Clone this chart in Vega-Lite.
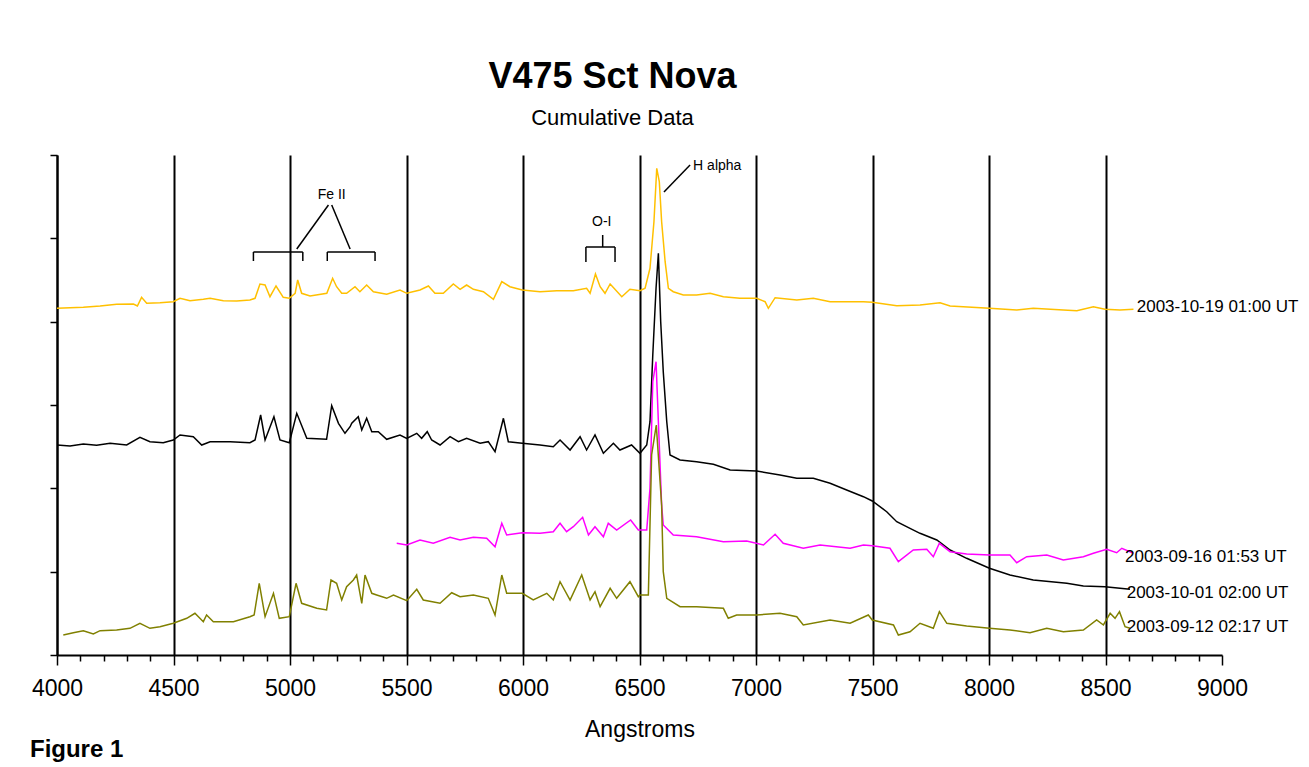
{
  "$schema": "https://vega.github.io/schema/vega-lite/v6.json",
  "width": 1165,
  "height": 500,
  "autosize": {"type": "none"},
  "padding": {"left": 57, "top": 155, "right": 87, "bottom": 112},
  "background": "white",
  "title": {
    "text": "V475 Sct Nova",
    "subtitle": "Cumulative Data",
    "font": "Liberation Sans",
    "fontSize": 36,
    "fontWeight": "bold",
    "color": "black",
    "subtitleFont": "Liberation Sans",
    "subtitleFontSize": 22,
    "subtitleColor": "black",
    "subtitlePadding": 12,
    "anchor": "middle",
    "dx": -27,
    "offset": 24
  },
  "datasets": {
    "spectra": [
      {"series": "2003-10-19", "lambda": 4000, "flux": 346.7}, {"series": "2003-10-19", "lambda": 4056, "flux": 347.3}, {"series": "2003-10-19", "lambda": 4113, "flux": 347.7}, {"series": "2003-10-19", "lambda": 4185, "flux": 349}, {"series": "2003-10-19", "lambda": 4256, "flux": 350.7}, {"series": "2003-10-19", "lambda": 4328, "flux": 351}, {"series": "2003-10-19", "lambda": 4345, "flux": 349}, {"series": "2003-10-19", "lambda": 4363, "flux": 357.7}, {"series": "2003-10-19", "lambda": 4385, "flux": 351.7}, {"series": "2003-10-19", "lambda": 4442, "flux": 352.3}, {"series": "2003-10-19", "lambda": 4499, "flux": 353.3}, {"series": "2003-10-19", "lambda": 4528, "flux": 356.7}, {"series": "2003-10-19", "lambda": 4571, "flux": 354.3}, {"series": "2003-10-19", "lambda": 4628, "flux": 355.7}, {"series": "2003-10-19", "lambda": 4657, "flux": 356.7}, {"series": "2003-10-19", "lambda": 4714, "flux": 354.3}, {"series": "2003-10-19", "lambda": 4771, "flux": 354}, {"series": "2003-10-19", "lambda": 4828, "flux": 355}, {"series": "2003-10-19", "lambda": 4850, "flux": 356.7}, {"series": "2003-10-19", "lambda": 4871, "flux": 371}, {"series": "2003-10-19", "lambda": 4893, "flux": 370}, {"series": "2003-10-19", "lambda": 4914, "flux": 358.3}, {"series": "2003-10-19", "lambda": 4940, "flux": 369}, {"series": "2003-10-19", "lambda": 4971, "flux": 357.7}, {"series": "2003-10-19", "lambda": 4997, "flux": 356.7}, {"series": "2003-10-19", "lambda": 5022, "flux": 361.7}, {"series": "2003-10-19", "lambda": 5033, "flux": 375}, {"series": "2003-10-19", "lambda": 5050, "flux": 361.7}, {"series": "2003-10-19", "lambda": 5086, "flux": 359}, {"series": "2003-10-19", "lambda": 5158, "flux": 361.7}, {"series": "2003-10-19", "lambda": 5183, "flux": 376.7}, {"series": "2003-10-19", "lambda": 5200, "flux": 368.3}, {"series": "2003-10-19", "lambda": 5222, "flux": 361.7}, {"series": "2003-10-19", "lambda": 5243, "flux": 361.7}, {"series": "2003-10-19", "lambda": 5279, "flux": 368.3}, {"series": "2003-10-19", "lambda": 5300, "flux": 363.3}, {"series": "2003-10-19", "lambda": 5329, "flux": 370}, {"series": "2003-10-19", "lambda": 5358, "flux": 363.3}, {"series": "2003-10-19", "lambda": 5415, "flux": 360.7}, {"series": "2003-10-19", "lambda": 5472, "flux": 365}, {"series": "2003-10-19", "lambda": 5501, "flux": 361.7}, {"series": "2003-10-19", "lambda": 5558, "flux": 365}, {"series": "2003-10-19", "lambda": 5594, "flux": 369}, {"series": "2003-10-19", "lambda": 5622, "flux": 361.7}, {"series": "2003-10-19", "lambda": 5658, "flux": 361.7}, {"series": "2003-10-19", "lambda": 5701, "flux": 371}, {"series": "2003-10-19", "lambda": 5730, "flux": 365.7}, {"series": "2003-10-19", "lambda": 5758, "flux": 370}, {"series": "2003-10-19", "lambda": 5787, "flux": 365.7}, {"series": "2003-10-19", "lambda": 5830, "flux": 363.3}, {"series": "2003-10-19", "lambda": 5873, "flux": 355.7}, {"series": "2003-10-19", "lambda": 5909, "flux": 373.3}, {"series": "2003-10-19", "lambda": 5944, "flux": 368.3}, {"series": "2003-10-19", "lambda": 5997, "flux": 365}, {"series": "2003-10-19", "lambda": 6073, "flux": 363.3}, {"series": "2003-10-19", "lambda": 6145, "flux": 364.3}, {"series": "2003-10-19", "lambda": 6216, "flux": 364.3}, {"series": "2003-10-19", "lambda": 6273, "flux": 366.7}, {"series": "2003-10-19", "lambda": 6288, "flux": 361.7}, {"series": "2003-10-19", "lambda": 6311, "flux": 381}, {"series": "2003-10-19", "lambda": 6331, "flux": 368.3}, {"series": "2003-10-19", "lambda": 6352, "flux": 361.7}, {"series": "2003-10-19", "lambda": 6374, "flux": 371}, {"series": "2003-10-19", "lambda": 6424, "flux": 358.3}, {"series": "2003-10-19", "lambda": 6459, "flux": 365.7}, {"series": "2003-10-19", "lambda": 6502, "flux": 364.3}, {"series": "2003-10-19", "lambda": 6524, "flux": 366.7}, {"series": "2003-10-19", "lambda": 6545, "flux": 386.7}, {"series": "2003-10-19", "lambda": 6562, "flux": 433.3}, {"series": "2003-10-19", "lambda": 6574, "flux": 486.7}, {"series": "2003-10-19", "lambda": 6585, "flux": 473.3}, {"series": "2003-10-19", "lambda": 6595, "flux": 433.3}, {"series": "2003-10-19", "lambda": 6610, "flux": 393.3}, {"series": "2003-10-19", "lambda": 6624, "flux": 366.7}, {"series": "2003-10-19", "lambda": 6645, "flux": 363.3}, {"series": "2003-10-19", "lambda": 6688, "flux": 360}, {"series": "2003-10-19", "lambda": 6745, "flux": 360}, {"series": "2003-10-19", "lambda": 6803, "flux": 361.7}, {"series": "2003-10-19", "lambda": 6860, "flux": 358.3}, {"series": "2003-10-19", "lambda": 6931, "flux": 356.7}, {"series": "2003-10-19", "lambda": 7003, "flux": 356.7}, {"series": "2003-10-19", "lambda": 7039, "flux": 353.3}, {"series": "2003-10-19", "lambda": 7053, "flux": 346.7}, {"series": "2003-10-19", "lambda": 7082, "flux": 357.3}, {"series": "2003-10-19", "lambda": 7175, "flux": 355}, {"series": "2003-10-19", "lambda": 7246, "flux": 356.7}, {"series": "2003-10-19", "lambda": 7318, "flux": 353.3}, {"series": "2003-10-19", "lambda": 7461, "flux": 353.3}, {"series": "2003-10-19", "lambda": 7499, "flux": 352.7}, {"series": "2003-10-19", "lambda": 7604, "flux": 349.3}, {"series": "2003-10-19", "lambda": 7704, "flux": 350}, {"series": "2003-10-19", "lambda": 7790, "flux": 352.3}, {"series": "2003-10-19", "lambda": 7833, "flux": 349}, {"series": "2003-10-19", "lambda": 8002, "flux": 346.7}, {"series": "2003-10-19", "lambda": 8119, "flux": 345}, {"series": "2003-10-19", "lambda": 8190, "flux": 346.7}, {"series": "2003-10-19", "lambda": 8319, "flux": 345}, {"series": "2003-10-19", "lambda": 8377, "flux": 344.3}, {"series": "2003-10-19", "lambda": 8448, "flux": 348.3}, {"series": "2003-10-19", "lambda": 8498, "flux": 345.7}, {"series": "2003-10-19", "lambda": 8562, "flux": 345}, {"series": "2003-10-19", "lambda": 8620, "flux": 345.7},

      {"series": "2003-10-01", "lambda": 4000, "flux": 210}, {"series": "2003-10-01", "lambda": 4056, "flux": 209}, {"series": "2003-10-01", "lambda": 4113, "flux": 211}, {"series": "2003-10-01", "lambda": 4170, "flux": 209.7}, {"series": "2003-10-01", "lambda": 4228, "flux": 211.7}, {"series": "2003-10-01", "lambda": 4299, "flux": 210}, {"series": "2003-10-01", "lambda": 4356, "flux": 217.7}, {"series": "2003-10-01", "lambda": 4399, "flux": 213.3}, {"series": "2003-10-01", "lambda": 4456, "flux": 212.3}, {"series": "2003-10-01", "lambda": 4499, "flux": 215}, {"series": "2003-10-01", "lambda": 4528, "flux": 220}, {"series": "2003-10-01", "lambda": 4585, "flux": 218.3}, {"series": "2003-10-01", "lambda": 4621, "flux": 210}, {"series": "2003-10-01", "lambda": 4657, "flux": 213.3}, {"series": "2003-10-01", "lambda": 4743, "flux": 213.3}, {"series": "2003-10-01", "lambda": 4828, "flux": 212.3}, {"series": "2003-10-01", "lambda": 4850, "flux": 215}, {"series": "2003-10-01", "lambda": 4874, "flux": 240}, {"series": "2003-10-01", "lambda": 4893, "flux": 215}, {"series": "2003-10-01", "lambda": 4931, "flux": 238.3}, {"series": "2003-10-01", "lambda": 4957, "flux": 215}, {"series": "2003-10-01", "lambda": 4997, "flux": 212.3}, {"series": "2003-10-01", "lambda": 5029, "flux": 241.7}, {"series": "2003-10-01", "lambda": 5072, "flux": 216.7}, {"series": "2003-10-01", "lambda": 5157, "flux": 215.7}, {"series": "2003-10-01", "lambda": 5179, "flux": 249.3}, {"series": "2003-10-01", "lambda": 5208, "flux": 231.7}, {"series": "2003-10-01", "lambda": 5236, "flux": 221.7}, {"series": "2003-10-01", "lambda": 5258, "flux": 228.3}, {"series": "2003-10-01", "lambda": 5265, "flux": 231.7}, {"series": "2003-10-01", "lambda": 5293, "flux": 238.3}, {"series": "2003-10-01", "lambda": 5308, "flux": 225}, {"series": "2003-10-01", "lambda": 5329, "flux": 236.7}, {"series": "2003-10-01", "lambda": 5351, "flux": 223.3}, {"series": "2003-10-01", "lambda": 5379, "flux": 223.3}, {"series": "2003-10-01", "lambda": 5415, "flux": 215.7}, {"series": "2003-10-01", "lambda": 5472, "flux": 220}, {"series": "2003-10-01", "lambda": 5501, "flux": 216.7}, {"series": "2003-10-01", "lambda": 5544, "flux": 221.7}, {"series": "2003-10-01", "lambda": 5565, "flux": 216.7}, {"series": "2003-10-01", "lambda": 5589, "flux": 223.3}, {"series": "2003-10-01", "lambda": 5608, "flux": 215}, {"series": "2003-10-01", "lambda": 5644, "flux": 210}, {"series": "2003-10-01", "lambda": 5687, "flux": 218.3}, {"series": "2003-10-01", "lambda": 5723, "flux": 213.3}, {"series": "2003-10-01", "lambda": 5758, "flux": 216.7}, {"series": "2003-10-01", "lambda": 5816, "flux": 211.7}, {"series": "2003-10-01", "lambda": 5851, "flux": 213.3}, {"series": "2003-10-01", "lambda": 5880, "flux": 203.3}, {"series": "2003-10-01", "lambda": 5916, "flux": 236.7}, {"series": "2003-10-01", "lambda": 5937, "flux": 213.3}, {"series": "2003-10-01", "lambda": 5997, "flux": 211.7}, {"series": "2003-10-01", "lambda": 6073, "flux": 210}, {"series": "2003-10-01", "lambda": 6130, "flux": 208.3}, {"series": "2003-10-01", "lambda": 6159, "flux": 215}, {"series": "2003-10-01", "lambda": 6202, "flux": 205}, {"series": "2003-10-01", "lambda": 6245, "flux": 218.3}, {"series": "2003-10-01", "lambda": 6273, "flux": 205}, {"series": "2003-10-01", "lambda": 6309, "flux": 220}, {"series": "2003-10-01", "lambda": 6345, "flux": 201.7}, {"series": "2003-10-01", "lambda": 6388, "flux": 211.7}, {"series": "2003-10-01", "lambda": 6416, "flux": 205}, {"series": "2003-10-01", "lambda": 6466, "flux": 210}, {"series": "2003-10-01", "lambda": 6502, "flux": 201.7}, {"series": "2003-10-01", "lambda": 6531, "flux": 210}, {"series": "2003-10-01", "lambda": 6545, "flux": 233.3}, {"series": "2003-10-01", "lambda": 6557, "flux": 300}, {"series": "2003-10-01", "lambda": 6571, "flux": 366.7}, {"series": "2003-10-01", "lambda": 6581, "flux": 401.7}, {"series": "2003-10-01", "lambda": 6591, "flux": 333.3}, {"series": "2003-10-01", "lambda": 6602, "flux": 283.3}, {"series": "2003-10-01", "lambda": 6617, "flux": 233.3}, {"series": "2003-10-01", "lambda": 6631, "flux": 200}, {"series": "2003-10-01", "lambda": 6674, "flux": 195}, {"series": "2003-10-01", "lambda": 6745, "flux": 193.3}, {"series": "2003-10-01", "lambda": 6817, "flux": 190.7}, {"series": "2003-10-01", "lambda": 6889, "flux": 185}, {"series": "2003-10-01", "lambda": 7003, "flux": 184}, {"series": "2003-10-01", "lambda": 7103, "flux": 180}, {"series": "2003-10-01", "lambda": 7175, "flux": 176.7}, {"series": "2003-10-01", "lambda": 7246, "flux": 176.7}, {"series": "2003-10-01", "lambda": 7318, "flux": 171.7}, {"series": "2003-10-01", "lambda": 7389, "flux": 165}, {"series": "2003-10-01", "lambda": 7461, "flux": 158.3}, {"series": "2003-10-01", "lambda": 7499, "flux": 154}, {"series": "2003-10-01", "lambda": 7561, "flux": 143.3}, {"series": "2003-10-01", "lambda": 7604, "flux": 133.3}, {"series": "2003-10-01", "lambda": 7661, "flux": 126.7}, {"series": "2003-10-01", "lambda": 7704, "flux": 121.7}, {"series": "2003-10-01", "lambda": 7776, "flux": 115}, {"series": "2003-10-01", "lambda": 7833, "flux": 105}, {"series": "2003-10-01", "lambda": 7904, "flux": 96.7}, {"series": "2003-10-01", "lambda": 8002, "flux": 86.7}, {"series": "2003-10-01", "lambda": 8090, "flux": 80}, {"series": "2003-10-01", "lambda": 8190, "flux": 75}, {"series": "2003-10-01", "lambda": 8334, "flux": 71.7}, {"series": "2003-10-01", "lambda": 8405, "flux": 69}, {"series": "2003-10-01", "lambda": 8498, "flux": 68.3}, {"series": "2003-10-01", "lambda": 8605, "flux": 65.7},

      {"series": "2003-09-16", "lambda": 5458, "flux": 111.7}, {"series": "2003-09-16", "lambda": 5501, "flux": 110}, {"series": "2003-09-16", "lambda": 5558, "flux": 115}, {"series": "2003-09-16", "lambda": 5615, "flux": 111.7}, {"series": "2003-09-16", "lambda": 5687, "flux": 117.7}, {"series": "2003-09-16", "lambda": 5730, "flux": 115}, {"series": "2003-09-16", "lambda": 5787, "flux": 117.7}, {"series": "2003-09-16", "lambda": 5844, "flux": 116.7}, {"series": "2003-09-16", "lambda": 5880, "flux": 108.3}, {"series": "2003-09-16", "lambda": 5909, "flux": 131.7}, {"series": "2003-09-16", "lambda": 5930, "flux": 120}, {"series": "2003-09-16", "lambda": 5997, "flux": 122.3}, {"series": "2003-09-16", "lambda": 6073, "flux": 121.7}, {"series": "2003-09-16", "lambda": 6130, "flux": 123.3}, {"series": "2003-09-16", "lambda": 6159, "flux": 131.7}, {"series": "2003-09-16", "lambda": 6187, "flux": 123.3}, {"series": "2003-09-16", "lambda": 6216, "flux": 128.3}, {"series": "2003-09-16", "lambda": 6256, "flux": 137.7}, {"series": "2003-09-16", "lambda": 6281, "flux": 120}, {"series": "2003-09-16", "lambda": 6309, "flux": 128.3}, {"series": "2003-09-16", "lambda": 6345, "flux": 118.3}, {"series": "2003-09-16", "lambda": 6366, "flux": 131.7}, {"series": "2003-09-16", "lambda": 6402, "flux": 125}, {"series": "2003-09-16", "lambda": 6462, "flux": 135}, {"series": "2003-09-16", "lambda": 6495, "flux": 125}, {"series": "2003-09-16", "lambda": 6531, "flux": 125}, {"series": "2003-09-16", "lambda": 6545, "flux": 166.7}, {"series": "2003-09-16", "lambda": 6557, "flux": 273.3}, {"series": "2003-09-16", "lambda": 6571, "flux": 293.3}, {"series": "2003-09-16", "lambda": 6581, "flux": 233.3}, {"series": "2003-09-16", "lambda": 6595, "flux": 150}, {"series": "2003-09-16", "lambda": 6602, "flux": 130}, {"series": "2003-09-16", "lambda": 6645, "flux": 120}, {"series": "2003-09-16", "lambda": 6745, "flux": 118.3}, {"series": "2003-09-16", "lambda": 6860, "flux": 113.3}, {"series": "2003-09-16", "lambda": 6960, "flux": 114}, {"series": "2003-09-16", "lambda": 7032, "flux": 110}, {"series": "2003-09-16", "lambda": 7082, "flux": 120.7}, {"series": "2003-09-16", "lambda": 7117, "flux": 111.7}, {"series": "2003-09-16", "lambda": 7203, "flux": 106.7}, {"series": "2003-09-16", "lambda": 7275, "flux": 110}, {"series": "2003-09-16", "lambda": 7404, "flux": 106.7}, {"series": "2003-09-16", "lambda": 7461, "flux": 110}, {"series": "2003-09-16", "lambda": 7499, "flux": 109.3}, {"series": "2003-09-16", "lambda": 7575, "flux": 106.7}, {"series": "2003-09-16", "lambda": 7611, "flux": 93.3}, {"series": "2003-09-16", "lambda": 7675, "flux": 105}, {"series": "2003-09-16", "lambda": 7733, "flux": 105.7}, {"series": "2003-09-16", "lambda": 7761, "flux": 98.3}, {"series": "2003-09-16", "lambda": 7787, "flux": 111.7}, {"series": "2003-09-16", "lambda": 7833, "flux": 103.3}, {"series": "2003-09-16", "lambda": 7904, "flux": 101}, {"series": "2003-09-16", "lambda": 8002, "flux": 100}, {"series": "2003-09-16", "lambda": 8090, "flux": 100}, {"series": "2003-09-16", "lambda": 8119, "flux": 92.3}, {"series": "2003-09-16", "lambda": 8162, "flux": 98.3}, {"series": "2003-09-16", "lambda": 8248, "flux": 100}, {"series": "2003-09-16", "lambda": 8319, "flux": 95}, {"series": "2003-09-16", "lambda": 8405, "flux": 98.3}, {"series": "2003-09-16", "lambda": 8448, "flux": 101.7}, {"series": "2003-09-16", "lambda": 8505, "flux": 105.7}, {"series": "2003-09-16", "lambda": 8548, "flux": 102.3}, {"series": "2003-09-16", "lambda": 8570, "flux": 106.7}, {"series": "2003-09-16", "lambda": 8620, "flux": 101.7},

      {"series": "2003-09-12", "lambda": 4027, "flux": 20}, {"series": "2003-09-12", "lambda": 4070, "flux": 22.3}, {"series": "2003-09-12", "lambda": 4113, "flux": 24.3}, {"series": "2003-09-12", "lambda": 4156, "flux": 21}, {"series": "2003-09-12", "lambda": 4185, "flux": 24.3}, {"series": "2003-09-12", "lambda": 4256, "flux": 25}, {"series": "2003-09-12", "lambda": 4313, "flux": 26.7}, {"series": "2003-09-12", "lambda": 4356, "flux": 31.7}, {"series": "2003-09-12", "lambda": 4399, "flux": 26.7}, {"series": "2003-09-12", "lambda": 4442, "flux": 28.3}, {"series": "2003-09-12", "lambda": 4499, "flux": 31.7}, {"series": "2003-09-12", "lambda": 4557, "flux": 36.7}, {"series": "2003-09-12", "lambda": 4592, "flux": 41.7}, {"series": "2003-09-12", "lambda": 4628, "flux": 33.3}, {"series": "2003-09-12", "lambda": 4642, "flux": 40}, {"series": "2003-09-12", "lambda": 4671, "flux": 33.3}, {"series": "2003-09-12", "lambda": 4757, "flux": 33.3}, {"series": "2003-09-12", "lambda": 4828, "flux": 38.3}, {"series": "2003-09-12", "lambda": 4846, "flux": 40}, {"series": "2003-09-12", "lambda": 4868, "flux": 71.7}, {"series": "2003-09-12", "lambda": 4893, "flux": 38.3}, {"series": "2003-09-12", "lambda": 4929, "flux": 61.7}, {"series": "2003-09-12", "lambda": 4954, "flux": 36.7}, {"series": "2003-09-12", "lambda": 4997, "flux": 38.3}, {"series": "2003-09-12", "lambda": 5026, "flux": 71.7}, {"series": "2003-09-12", "lambda": 5050, "flux": 51.7}, {"series": "2003-09-12", "lambda": 5115, "flux": 46.7}, {"series": "2003-09-12", "lambda": 5157, "flux": 45}, {"series": "2003-09-12", "lambda": 5176, "flux": 75}, {"series": "2003-09-12", "lambda": 5200, "flux": 71.7}, {"series": "2003-09-12", "lambda": 5222, "flux": 55}, {"series": "2003-09-12", "lambda": 5243, "flux": 68.3}, {"series": "2003-09-12", "lambda": 5272, "flux": 75}, {"series": "2003-09-12", "lambda": 5286, "flux": 80}, {"series": "2003-09-12", "lambda": 5308, "flux": 51.7}, {"series": "2003-09-12", "lambda": 5322, "flux": 80}, {"series": "2003-09-12", "lambda": 5351, "flux": 61.7}, {"series": "2003-09-12", "lambda": 5372, "flux": 60}, {"series": "2003-09-12", "lambda": 5415, "flux": 56.7}, {"series": "2003-09-12", "lambda": 5444, "flux": 60}, {"series": "2003-09-12", "lambda": 5501, "flux": 54.3}, {"series": "2003-09-12", "lambda": 5544, "flux": 65.7}, {"series": "2003-09-12", "lambda": 5572, "flux": 55}, {"series": "2003-09-12", "lambda": 5644, "flux": 51.7}, {"series": "2003-09-12", "lambda": 5694, "flux": 62.3}, {"series": "2003-09-12", "lambda": 5730, "flux": 58.3}, {"series": "2003-09-12", "lambda": 5787, "flux": 60}, {"series": "2003-09-12", "lambda": 5851, "flux": 56.7}, {"series": "2003-09-12", "lambda": 5880, "flux": 40}, {"series": "2003-09-12", "lambda": 5909, "flux": 80}, {"series": "2003-09-12", "lambda": 5930, "flux": 61.7}, {"series": "2003-09-12", "lambda": 5997, "flux": 61.7}, {"series": "2003-09-12", "lambda": 6044, "flux": 55}, {"series": "2003-09-12", "lambda": 6102, "flux": 61.7}, {"series": "2003-09-12", "lambda": 6130, "flux": 55}, {"series": "2003-09-12", "lambda": 6159, "flux": 73.3}, {"series": "2003-09-12", "lambda": 6202, "flux": 55}, {"series": "2003-09-12", "lambda": 6252, "flux": 80}, {"series": "2003-09-12", "lambda": 6288, "flux": 55}, {"series": "2003-09-12", "lambda": 6309, "flux": 63.3}, {"series": "2003-09-12", "lambda": 6331, "flux": 48.3}, {"series": "2003-09-12", "lambda": 6374, "flux": 66.7}, {"series": "2003-09-12", "lambda": 6402, "flux": 56.7}, {"series": "2003-09-12", "lambda": 6459, "flux": 73.3}, {"series": "2003-09-12", "lambda": 6495, "flux": 58.3}, {"series": "2003-09-12", "lambda": 6502, "flux": 60}, {"series": "2003-09-12", "lambda": 6538, "flux": 60}, {"series": "2003-09-12", "lambda": 6552, "flux": 200}, {"series": "2003-09-12", "lambda": 6572, "flux": 230}, {"series": "2003-09-12", "lambda": 6595, "flux": 150}, {"series": "2003-09-12", "lambda": 6602, "flux": 83.3}, {"series": "2003-09-12", "lambda": 6617, "flux": 56.7}, {"series": "2003-09-12", "lambda": 6674, "flux": 48.3}, {"series": "2003-09-12", "lambda": 6745, "flux": 48.3}, {"series": "2003-09-12", "lambda": 6860, "flux": 46.7}, {"series": "2003-09-12", "lambda": 6881, "flux": 36.7}, {"series": "2003-09-12", "lambda": 6917, "flux": 40}, {"series": "2003-09-12", "lambda": 7003, "flux": 40}, {"series": "2003-09-12", "lambda": 7103, "flux": 41.7}, {"series": "2003-09-12", "lambda": 7175, "flux": 38.3}, {"series": "2003-09-12", "lambda": 7203, "flux": 30}, {"series": "2003-09-12", "lambda": 7318, "flux": 35}, {"series": "2003-09-12", "lambda": 7404, "flux": 31.7}, {"series": "2003-09-12", "lambda": 7482, "flux": 40}, {"series": "2003-09-12", "lambda": 7499, "flux": 35}, {"series": "2003-09-12", "lambda": 7590, "flux": 30}, {"series": "2003-09-12", "lambda": 7611, "flux": 20}, {"series": "2003-09-12", "lambda": 7661, "flux": 23.3}, {"series": "2003-09-12", "lambda": 7704, "flux": 31.7}, {"series": "2003-09-12", "lambda": 7761, "flux": 26.7}, {"series": "2003-09-12", "lambda": 7787, "flux": 43.3}, {"series": "2003-09-12", "lambda": 7819, "flux": 31.7}, {"series": "2003-09-12", "lambda": 7904, "flux": 29}, {"series": "2003-09-12", "lambda": 8002, "flux": 26.7}, {"series": "2003-09-12", "lambda": 8090, "flux": 25}, {"series": "2003-09-12", "lambda": 8176, "flux": 22.3}, {"series": "2003-09-12", "lambda": 8248, "flux": 26.7}, {"series": "2003-09-12", "lambda": 8319, "flux": 23.3}, {"series": "2003-09-12", "lambda": 8405, "flux": 25}, {"series": "2003-09-12", "lambda": 8462, "flux": 35}, {"series": "2003-09-12", "lambda": 8491, "flux": 30}, {"series": "2003-09-12", "lambda": 8520, "flux": 41.7}, {"series": "2003-09-12", "lambda": 8541, "flux": 36.7}, {"series": "2003-09-12", "lambda": 8560, "flux": 43.3}, {"series": "2003-09-12", "lambda": 8584, "flux": 28.3}, {"series": "2003-09-12", "lambda": 8605, "flux": 26.7}
    ],
    "brackets": [
      {"lambda": 4843, "flux": 403, "lambda2": 5055, "flux2": 403},
      {"lambda": 4843, "flux": 403, "lambda2": 4843, "flux2": 394},
      {"lambda": 5055, "flux": 403, "lambda2": 5055, "flux2": 394},
      {"lambda": 5160, "flux": 403, "lambda2": 5365, "flux2": 403},
      {"lambda": 5160, "flux": 403, "lambda2": 5160, "flux2": 394},
      {"lambda": 5365, "flux": 403, "lambda2": 5365, "flux2": 394},
      {"lambda": 5165, "flux": 450, "lambda2": 5029, "flux2": 406},
      {"lambda": 5179, "flux": 450, "lambda2": 5258, "flux2": 406},
      {"lambda": 6270, "flux": 408, "lambda2": 6395, "flux2": 408},
      {"lambda": 6270, "flux": 408, "lambda2": 6270, "flux2": 393},
      {"lambda": 6395, "flux": 408, "lambda2": 6395, "flux2": 393},
      {"lambda": 6342, "flux": 408, "lambda2": 6342, "flux2": 420},
      {"lambda": 6717, "flux": 490, "lambda2": 6605, "flux2": 463}
    ],
    "seriesLabels": [
      {"lambda": 8634, "flux": 348, "text": "2003-10-19 01:00 UT"},
      {"lambda": 8584, "flux": 98, "text": "2003-09-16 01:53 UT"},
      {"lambda": 8591, "flux": 62, "text": "2003-10-01 02:00 UT"},
      {"lambda": 8591, "flux": 28, "text": "2003-09-12 02:17 UT"}
    ],
    "lineNames": [
      {"lambda": 5179, "flux": 460, "text": "Fe II"},
      {"lambda": 6338, "flux": 433, "text": "O-I"}
    ],
    "halpha": [
      {"lambda": 6730, "flux": 489, "text": "H alpha"}
    ],
    "figure": [
      {"lambda": 3884, "flux": -95, "text": "Figure 1"}
    ]
  },
  "encoding": {
    "x": {
      "field": "lambda",
      "type": "quantitative",
      "scale": {"domain": [4000, 9000], "nice": false, "zero": false},
      "axis": {
        "title": "Angstroms",
        "titleFont": "Liberation Sans",
        "titleFontSize": 23,
        "titleFontWeight": "normal",
        "titleColor": "black",
        "titlePadding": 18,
        "values": [4000, 4100, 4200, 4300, 4400, 4500, 4600, 4700, 4800, 4900, 5000, 5100, 5200, 5300, 5400, 5500, 5600, 5700, 5800, 5900, 6000, 6100, 6200, 6300, 6400, 6500, 6600, 6700, 6800, 6900, 7000, 7100, 7200, 7300, 7400, 7500, 7600, 7700, 7800, 7900, 8000, 8100, 8200, 8300, 8400, 8500, 8600, 8700, 8800, 8900, 9000],
        "format": "d",
        "labelExpr": "datum.value % 500 === 0 ? datum.label : ''",
        "labelFont": "Liberation Sans",
        "labelFontSize": 23,
        "labelColor": "black",
        "labelPadding": 12,
        "labelFlush": false,
        "labelOverlap": false,
        "domainColor": "black",
        "domainWidth": 2,
        "tickColor": "black",
        "tickWidth": 1.5,
        "tickSize": {"condition": {"test": "datum.value % 500 === 0", "value": 10}, "value": 6},
        "grid": true,
        "gridColor": "black",
        "gridWidth": 2,
        "gridOpacity": {"condition": {"test": "datum.value % 500 === 0 && datum.value < 9000", "value": 1}, "value": 0}
      }
    },
    "y": {
      "field": "flux",
      "type": "quantitative",
      "scale": {"domain": [0, 500], "nice": false, "zero": false},
      "axis": {
        "title": null,
        "labels": false,
        "values": [0, 83.33, 166.67, 250, 333.33, 416.67, 500],
        "grid": false,
        "domainColor": "black",
        "domainWidth": 2,
        "tickColor": "black",
        "tickWidth": 1.5,
        "tickSize": 7
      }
    }
  },
  "layer": [
    {
      "data": {"name": "spectra"},
      "mark": {"type": "line", "strokeWidth": 1.5, "interpolate": "linear"},
      "encoding": {
        "color": {
          "field": "series",
          "type": "nominal",
          "legend": null,
          "scale": {
            "domain": ["2003-09-12", "2003-09-16", "2003-10-01", "2003-10-19"],
            "range": ["#808000", "#FF00FF", "#000000", "#FFC000"]
          }
        }
      }
    },
    {
      "data": {"name": "brackets"},
      "mark": {"type": "rule", "color": "black", "strokeWidth": 1.5},
      "encoding": {
        "x2": {"field": "lambda2"},
        "y2": {"field": "flux2"}
      }
    },
    {
      "data": {"name": "seriesLabels"},
      "mark": {"type": "text", "align": "left", "baseline": "middle", "font": "Liberation Sans", "fontSize": 17, "color": "black"},
      "encoding": {
        "text": {"field": "text", "type": "nominal"}
      }
    },
    {
      "data": {"name": "lineNames"},
      "mark": {"type": "text", "align": "center", "baseline": "middle", "font": "Liberation Sans", "fontSize": 14, "color": "black"},
      "encoding": {
        "text": {"field": "text", "type": "nominal"}
      }
    },
    {
      "data": {"name": "halpha"},
      "mark": {"type": "text", "align": "left", "baseline": "middle", "font": "Liberation Sans", "fontSize": 14, "color": "black"},
      "encoding": {
        "text": {"field": "text", "type": "nominal"}
      }
    },
    {
      "data": {"name": "figure"},
      "mark": {"type": "text", "align": "left", "baseline": "middle", "font": "Liberation Sans", "fontSize": 24, "fontWeight": "bold", "color": "black"},
      "encoding": {
        "text": {"field": "text", "type": "nominal"}
      }
    }
  ],
  "config": {"view": {"stroke": null}}
}
